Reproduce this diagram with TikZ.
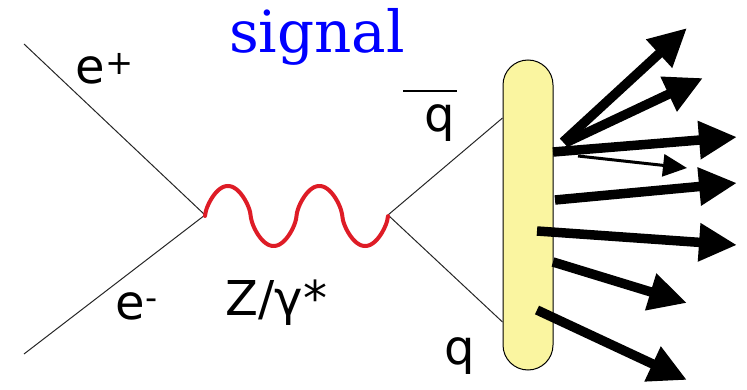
\documentclass[tikz,border=0pt]{standalone}
\usepackage{fontspec}
\setmainfont{DejaVu Sans}
\newfontfamily\sigfont{DejaVu Serif}
\usetikzlibrary{arrows.meta}
\definecolor{wavered}{RGB}{222,28,38}
\definecolor{blobyellow}{RGB}{250,245,160}
\definecolor{sigblue}{RGB}{0,0,255}
\begin{document}
\begin{tikzpicture}[x=1pt,y=-1pt,
  fermion/.style={line width=1pt, black!85},
  jet/.style={line width=9.5pt, -{Triangle[length=38pt,width=36pt]}},
  thinjet/.style={line width=3pt, -{Triangle[length=24pt,width=22pt]}},
  lbl/.style={font=\fontsize{48}{52}\selectfont, anchor=base west, inner sep=0pt}]
\useasboundingbox (0,0) rectangle (747,390);

% vertices and external points
\coordinate (v1) at (205,215);
\coordinate (v2) at (388,215);
\coordinate (ep) at (24,44);
\coordinate (em) at (24,354);

% hadronisation blob
\node[draw, line width=1pt, fill=blobyellow, rounded corners=25pt,
      minimum width=50pt, minimum height=310pt, inner sep=0pt] (blob) at (528,215) {};

% fermion lines
\draw[fermion] (ep) -- (v1);
\draw[fermion] (em) -- (v1);
\draw[fermion] (v2) -- (blob.west |- 0,118);
\draw[fermion] (v2) -- (blob.west |- 0,322);

% boson
\draw[wavered, line width=4pt, line cap=round]
  plot[domain=0:183, samples=200, smooth]
  ({205+\x},{216-30*sign(sin(3.9344*\x))*pow(abs(sin(3.9344*\x))+0.0001,0.65)});

% jets
\coordinate (s1) at (563,142); \coordinate (t1) at (687,28);
\coordinate (s2) at (565,143); \coordinate (t2) at (703,78);
\coordinate (s3) at (553,152); \coordinate (t3) at (737,137);
\coordinate (s4) at (578,156); \coordinate (t4) at (687,168);
\coordinate (s5) at (555,200); \coordinate (t5) at (737,183);
\coordinate (s6) at (537,231); \coordinate (t6) at (737,245);
\coordinate (s7) at (553,262); \coordinate (t7) at (687,303);
\coordinate (s8) at (537,310); \coordinate (t8) at (687,380);
\draw[jet] (s1) -- (t1);
\draw[jet] (s2) -- (t2);
\draw[jet] (s3) -- (t3);
\draw[thinjet] (s4) -- (t4);
\draw[jet] (s5) -- (t5);
\draw[jet] (s6) -- (t6);
\draw[jet] (s7) -- (t7);
\draw[jet] (s8) -- (t8);

% labels
\node[anchor=base, inner sep=0pt, text=sigblue, font=\sigfont\fontsize{58}{62}\selectfont] (sig) at (317,53) {signal};
\node[lbl] (lep) at (75.5,84) {e\textsuperscript{+}};
\node[lbl] (lem) at (115.5,319) {e\textsuperscript{-}};
\node[lbl] (lz) at (225.5,315) {Z/γ*};
\node[lbl] (lqb) at (424.5,132) {q};
\draw[line width=1.5pt] ([xshift=-21.5pt,yshift=41pt]lqb.base west) -- ++(54,0);
\node[lbl] (lq) at (444.5,364) {q};
\end{tikzpicture}
\end{document}
